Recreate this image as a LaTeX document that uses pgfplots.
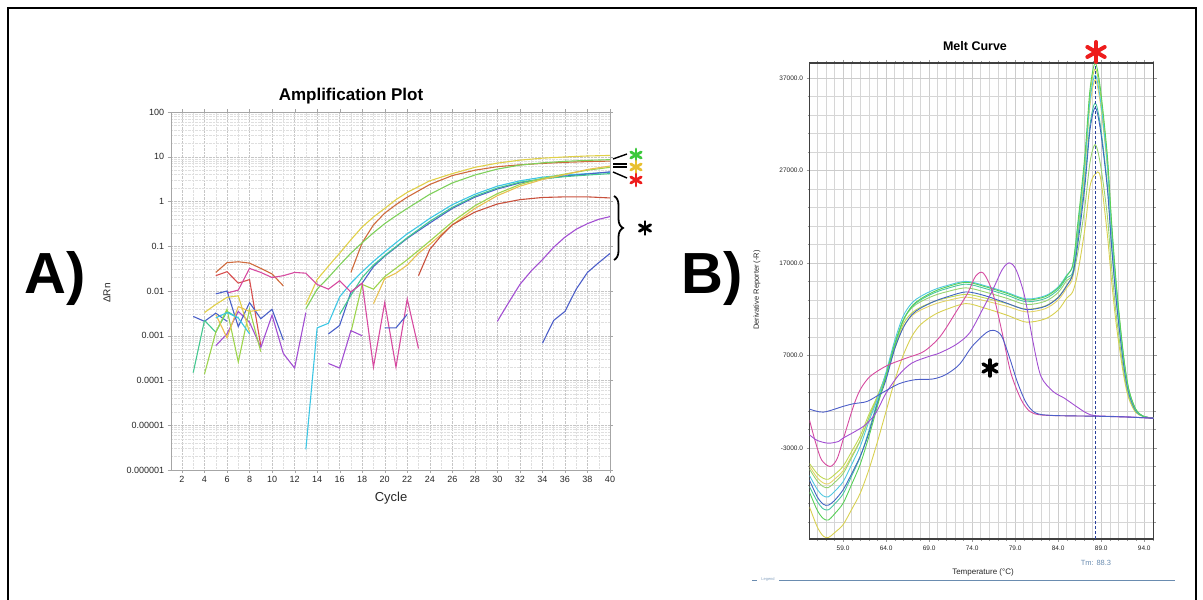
\documentclass[border=0pt]{standalone}
\usepackage{fontspec}
\setmainfont{Liberation Sans}
\usepackage{pgfplots}
\pgfplotsset{compat=1.18}
\usepackage{pgfplotstable}
\usetikzlibrary{decorations.pathreplacing}

\definecolor{cYel}{HTML}{E0D048}
\definecolor{cOra}{HTML}{CF6A3C}
\definecolor{cGrn}{HTML}{7ED05A}
\definecolor{cCya}{HTML}{3CC6E4}
\definecolor{cBlu}{HTML}{4A60C8}
\definecolor{cTea}{HTML}{44C890}
\definecolor{cLgr}{HTML}{9CD44C}
\definecolor{cLor}{HTML}{E8C050}
\definecolor{cRed}{HTML}{C8503C}
\definecolor{cPur}{HTML}{A24ED2}
\definecolor{cBvi}{HTML}{4C5EC8}
\definecolor{cMag}{HTML}{D64AA0}
\definecolor{cRn}{HTML}{D85050}
\definecolor{mGrn}{HTML}{58D058}
\definecolor{mYgr}{HTML}{C0D850}
\definecolor{mCya}{HTML}{50C8E0}
\definecolor{mBlu}{HTML}{3F66C2}
\definecolor{mTea}{HTML}{48C8A0}
\definecolor{mLgr}{HTML}{98D470}
\definecolor{mYel}{HTML}{D8D050}
\definecolor{mYe2}{HTML}{E4D468}
\definecolor{cLeg}{HTML}{6A8CB0}
\definecolor{cTm}{HTML}{2A3F9A}
\definecolor{starRed}{HTML}{EE1C1C}
\definecolor{starGrn}{HTML}{3CC83C}
\definecolor{starYel}{HTML}{E8C030}

\pgfplotstableread{
T a1 a2 a3 a4 a5 a6 a7 a8
55.1 -7800 -4700 -6000 -6500 -7200 -5300 -9400 -5000
56 -9750 -5800 -7500 -8300 -8800 -6600 -11550 -6240
56.7 -10650 -6300 -8200 -9100 -9600 -7200 -12550 -6800
57.3 -10800 -6400 -8300 -9200 -9700 -7300 -12700 -6900
58 -10160 -5900 -7720 -8700 -9090 -6760 -12190 -6400
59 -9000 -5000 -6670 -7550 -7990 -5790 -11310 -5490
60 -6950 -3400 -4800 -5800 -6040 -4060 -9660 -3870
61 -4760 -1700 -2825 -3900 -3970 -2220 -7890 -2150
62 -1800 600 -150 -1400 -1160 260 -5360 170
63 1540 2600 2300 1800 2010 2600 -2330 2400
64 4880 5000 5200 4400 4600 5000 960 4800
65 8220 7800 8600 7700 8000 8200 4250 7700
66 10790 10400 11270 10000 10800 10840 7030 10070
67 12330 11600 12670 11400 12260 12140 9060 11280
68 13100 12200 13370 12100 12990 12790 10320 11890
69.5 13870 12800 14070 12800 13720 13440 11340 12490
71 14390 13200 14530 13300 14210 13870 11970 12900
73.3 14900 13600 15000 13860 14700 14300 12600 13300
75.5 14430 13200 14530 13450 14230 13850 12100 12900
78 13720 12610 13820 12650 13520 13180 11360 12310
80.3 13000 12000 13100 11950 12800 12500 10600 11700
82.5 13350 12350 13450 12300 13150 12850 10950 12050
84 14300 13300 14400 13250 14100 13800 11900 13000
85 15600 14600 15700 14550 15400 15100 13200 14300
85.7 16840 15900 16730 15800 16030 15700 13900 15470
86.3 21450 20580 21090 19160 19900 18210 16050 19980
87.1 28620 27860 27860 25280 25920 23050 20670 27010
87.7 35780 35140 34640 31400 31940 27900 25290 34040
88.3 38600 38000 37300 33800 34300 29800 26600 36800
88.9 35900 35340 34690 31430 31900 27710 26300 34220
89.7 28760 28310 27790 25180 25550 22200 20190 27420
90.2 21500 21170 20780 18830 19100 16600 15100 20500
90.8 14200 13980 13730 12440 12620 10970 9970 13540
91.6 6950 6840 6710 6080 6180 5360 4880 6620
92.2 3360 3310 3250 2940 2990 2590 2360 3200
93 1200 1180 1160 1050 1070 920 840 1140
93.9 400 400 400 400 400 400 400 400
95.1 200 200 200 200 200 200 200 200
}\meltA

\newcommand{\myast}[5]{\foreach \a in {30,90,150,210,270,330}{\draw[#1,line width=#4,line cap=round] (#2pt,#3pt) -- ++(\a:#5pt);}}

\begin{document}
\begin{tikzpicture}
\useasboundingbox (0pt,0pt) rectangle (1203pt,600pt);
\draw[line width=2pt] (8pt,-5pt) -- (8pt,592pt) -- (1196pt,592pt) -- (1196pt,-5pt);

% ---------------- Amplification plot ----------------
\begin{axis}[
  at={(170.7pt,130pt)}, anchor=south west, scale only axis,
  width=439.3pt, height=358pt,
  xmin=1, xmax=40, ymin=1e-6, ymax=100, ymode=log,
  xtick={2,4,...,40}, minor x tick num=1,
  ytick={1e-6,1e-5,1e-4,1e-3,1e-2,1e-1,1,10,100},
  yticklabels={0.000001,0.00001,0.0001,0.001,0.01,0.1,1,10,100},
  /pgf/number format/assume math mode=true,
  grid=both,
  major grid style={gray!45, densely dotted},
  minor grid style={gray!25, densely dotted},
  axis line style={gray!70}, tick style={gray!70}, tick align=outside,
  major tick length=3pt, minor tick length=0pt,
  ticklabel style={font=\fontsize{9}{10}\selectfont, text=black!85},
  every axis plot/.append style={line width=1.1pt, no markers},
]
\addplot[cYel] coordinates {(13,0.005) (14,0.018) (15,0.036) (16,0.07) (17,0.14) (18,0.27) (19,0.45) (20,0.7) (21,1.1) (22,1.6) (24,2.9) (26,4.2) (28,5.8) (30,7.2) (32,8.4) (34,9.3) (36,9.9) (38,10.4) (40,10.7)};
\addplot[cOra] coordinates {(17,0.026) (18,0.12) (19,0.3) (20,0.55) (21,0.85) (22,1.25) (24,2.4) (26,3.8) (28,5.0) (30,6.0) (32,6.6) (34,7.1) (36,7.5) (38,7.8) (40,8.0)};
\addplot[cGrn] coordinates {(13,0.004) (14,0.011) (15,0.02) (16,0.038) (17,0.07) (18,0.12) (19,0.2) (20,0.32) (21,0.48) (22,0.7) (24,1.45) (26,2.6) (28,3.9) (30,5.3) (32,6.5) (34,7.3) (36,7.9) (38,8.3) (40,8.6)};
\addplot[cCya] coordinates {(13,0.0000029) (14,0.0015) (15,0.0019) (16,0.0074) (17,0.015) (18,0.027) (19,0.046) (20,0.075) (21,0.12) (22,0.19) (23,0.28) (24,0.42) (26,0.85) (28,1.45) (30,2.2) (32,2.9) (34,3.5) (36,3.9) (38,4.2) (40,4.5)};
\addplot[cBlu] coordinates {(15,0.0011) (16,0.0017) (17,0.0095) (18,0.015) (19,0.035) (20,0.06) (22,0.15) (24,0.33) (26,0.7) (28,1.25) (30,1.9) (32,2.6) (34,3.2) (36,3.7) (38,4.1) (40,4.6)};
\addplot[cTea] coordinates {(16,0.003) (17,0.008) (18,0.02) (19,0.038) (20,0.062) (22,0.155) (24,0.36) (26,0.74) (28,1.32) (30,2.0) (32,2.7) (34,3.2) (36,3.6) (38,3.9) (40,4.2)};
\addplot[cLgr] coordinates {(17,0.0012) (18,0.014) (19,0.011) (20,0.021) (22,0.05) (24,0.13) (26,0.35) (28,0.8) (30,1.5) (32,2.4) (34,3.3) (36,4.1) (38,5.0) (40,5.8)};
\addplot[cLor] coordinates {(19,0.0052) (20,0.019) (21,0.025) (22,0.038) (23,0.07) (24,0.11) (26,0.3) (28,0.7) (30,1.35) (32,2.2) (34,3.1) (36,4.0) (38,5.2) (40,6.2)};
\addplot[cRed] coordinates {(23,0.022) (24,0.085) (25,0.17) (26,0.3) (27,0.42) (28,0.58) (30,0.88) (32,1.1) (34,1.23) (36,1.27) (38,1.27) (40,1.2)};
\addplot[cPur] coordinates {(30,0.0021) (31,0.0055) (32,0.014) (33,0.028) (34,0.05) (35,0.095) (36,0.16) (37,0.24) (38,0.32) (39,0.4) (40,0.46)};
\addplot[cBvi] coordinates {(34,0.00068) (35,0.0022) (36,0.0035) (37,0.011) (38,0.026) (39,0.043) (40,0.069)};
% noise segments
\addplot[cOra] coordinates {(5,0.026) (6,0.043) (7,0.045) (8,0.042) (9,0.032) (10,0.024) (11,0.013)};
\addplot[cRn] coordinates {(5,0.022) (6,0.027) (7,0.015) (8,0.018) (9,0.0006)};
\addplot[cMag] coordinates {(6,0.009) (7,0.0105) (8,0.032) (9,0.026) (10,0.02) (11,0.022) (12,0.026) (13,0.025) (14,0.014) (15,0.011) (16,0.017) (17,0.0095) (18,0.015) (19,0.0002) (20,0.0055) (21,0.0002) (22,0.0066) (23,0.00052)};
\addplot[cPur] coordinates {(5,0.0006) (6,0.0011) (7,0.0035) (8,0.002) (9,0.00055) (10,0.0029) (11,0.0004) (12,0.00019) (13,0.0033)};
\addplot[cPur] coordinates {(15,0.00024) (16,0.00019) (17,0.0013) (18,0.001)};
\addplot[cBlu] coordinates {(20,0.0015) (21,0.0015) (22,0.003)};
\addplot[cBlu] coordinates {(3,0.0027) (4,0.0021) (5,0.0032) (6,0.0021)};
\addplot[cBlu] coordinates {(5,0.0086) (6,0.01) (7,0.0016) (8,0.0055) (9,0.0024) (10,0.0039) (11,0.0008)};
\addplot[cTea] coordinates {(3,0.00015) (4,0.0022) (5,0.0012) (6,0.0035) (7,0.0025)};
\addplot[cLgr] coordinates {(4,0.00014) (5,0.0012) (6,0.0039) (7,0.00026) (8,0.0039) (9,0.00044)};
\addplot[cYel] coordinates {(4,0.0033) (5,0.005) (6,0.0072) (7,0.0078) (8,0.0012)};
\addplot[cLor] coordinates {(5,0.003) (6,0.0009) (7,0.0045) (8,0.0035) (9,0.0038)};
\addplot[cCya] coordinates {(5,0.0025) (6,0.0033) (7,0.0025) (8,0.0011)};
\end{axis}

% ---------------- Melt curve ----------------
\begin{axis}[
  at={(809.5pt,61pt)}, anchor=south west, scale only axis,
  width=344.2pt, height=476pt,
  xmin=55.1, xmax=95.1, ymin=-12860, ymax=38620,
  scaled y ticks=false, scaled x ticks=false,
  xtick={59,64,69,74,79,84,89,94},
  xticklabels={59.0,64.0,69.0,74.0,79.0,84.0,89.0,94.0},
  ytick={-3000,7000,17000,27000,37000},
  yticklabels={-3000.0,7000.0,17000.0,27000.0,37000.0},
  /pgf/number format/assume math mode=true,
  minor xtick={56,57,...,95},
  minor ytick={-11000,-9000,...,37000},
  grid=both,
  major grid style={gray!40, line width=0.6pt},
  minor grid style={gray!32, line width=0.6pt},
  axis line style={black!75, line width=1.2pt},
  tick style={gray!80}, tick align=outside,
  major tick length=3pt, minor tick length=2pt,
  ticklabel style={font=\fontsize{6.5}{7}\selectfont, text=black!85},
  every axis plot/.append style={line width=0.9pt, no markers},
]
\addplot[mYel, smooth] table[x=T, y=a7] {\meltA};
\addplot[mYe2, smooth] table[x=T, y=a8] {\meltA};
\addplot[mLgr, smooth] table[x=T, y=a6] {\meltA};
\addplot[mYgr, smooth] table[x=T, y=a2] {\meltA};
\addplot[mTea, smooth] table[x=T, y=a5] {\meltA};
\addplot[mBlu, smooth] table[x=T, y=a4] {\meltA};
\addplot[mCya, smooth] table[x=T, y=a3] {\meltA};
\addplot[mGrn, smooth] table[x=T, y=a1] {\meltA};
\addplot[cMag, smooth] coordinates {(55.1,0) (55.8,-2400) (56.5,-4300) (57.5,-5020) (58.3,-4200) (59,-2130) (60.2,1480) (61,3300) (62.15,4730) (64.1,5890) (66.4,6720) (68.4,7430) (70.3,9060) (72.3,11950) (73.5,13750) (74.4,15560) (75.3,15900) (76.4,13750) (77.5,9400) (78.5,5100) (79.7,2200) (80.7,940) (81.8,580) (83.8,480) (88.3,420) (92,330) (95.1,200)};
\addplot[cPur, smooth] coordinates {(55.1,-1590) (56,-2200) (57.3,-2500) (58.5,-2300) (59,-1950) (60.4,-1230) (61.6,-510) (62.8,750) (64,2920) (65.5,4900) (67,6170) (69,6890) (70.2,7250) (72.1,8150) (73.7,9420) (75.2,11950) (76.4,14100) (77.5,16280) (78.3,17000) (79.1,16280) (80.1,13390) (81.1,8340) (82,4730) (83.4,3100) (84.7,2380) (86.1,1480) (87.3,760) (88.4,470) (92,350) (95.1,200)};
\addplot[cBvi, smooth] coordinates {(55.1,1190) (56.7,860) (59,1480) (60.2,1770) (61.8,2020) (63.5,2920) (65.5,3930) (67.4,4370) (69.4,4440) (70.9,4900) (72.5,6000) (74,7970) (75.6,9420) (76.5,9710) (77.4,9130) (78.3,6890) (79.3,4000) (80.3,1840) (81.4,760) (83.4,500) (88.3,420) (92,330) (95.1,200)};
\addplot[cTm, densely dashed, line width=0.6pt] coordinates {(88.3,-12860) (88.3,38620)};
\end{axis}

% ---------------- texts ----------------
\node[anchor=base west, font=\fontsize{58}{58}\selectfont\bfseries] at (21pt,306pt) {A)};
\node[anchor=base west, font=\fontsize{58}{58}\selectfont\bfseries] at (678pt,306pt) {B)};
\node[font=\fontsize{17}{20}\selectfont\bfseries] at (351pt,504pt) {Amplification Plot};
\node[font=\fontsize{13}{15}\selectfont, text=black!85] at (391pt,102pt) {Cycle};
\node[rotate=90, font=\fontsize{10}{12}\selectfont, text=black!85] at (107pt,307pt) {ΔRn};
\node[font=\fontsize{12.5}{14}\selectfont\bfseries] at (975pt,554pt) {Melt Curve};
\node[rotate=90, font=\fontsize{7.5}{9}\selectfont, text=black!85] at (757pt,310pt) {Derivative Reporter (-R)};
\node[font=\fontsize{8}{9}\selectfont, text=black!85] at (983pt,28pt) {Temperature (°C)};
\node[font=\fontsize{7.5}{9}\selectfont, text=cLeg] at (1096pt,37pt) {Tm: 88.3};
\draw[cLeg, line width=0.8pt] (752pt,20pt) -- (757pt,20pt);
\node[font=\fontsize{4}{5}\selectfont, text=cLeg!80] at (768pt,21pt) {Legend};
\draw[cLeg, line width=0.8pt] (779pt,20pt) -- (1175pt,20pt);

% ---------------- annotations ----------------
\myast{starRed}{1096}{548}{4pt}{10}
\myast{black}{990}{232}{3.5pt}{8}
\myast{starGrn}{636}{445}{2.8pt}{6}
\myast{starYel}{636}{433}{2.8pt}{6}
\myast{starRed}{636}{420}{2.8pt}{6}
\myast{black}{645}{372}{2.8pt}{6.5}
\draw[line width=1.4pt] (613pt,441pt) -- (627pt,446pt);
\draw[line width=1.4pt] (613pt,436pt) -- (627pt,436pt);
\draw[line width=1.4pt] (613pt,433pt) -- (627pt,433pt);
\draw[line width=1.4pt] (613pt,428pt) -- (627pt,422pt);
\draw[line width=1.8pt, decorate, decoration={brace, amplitude=9pt}] (614pt,404pt) -- (614pt,340pt);
\end{tikzpicture}
\end{document}
